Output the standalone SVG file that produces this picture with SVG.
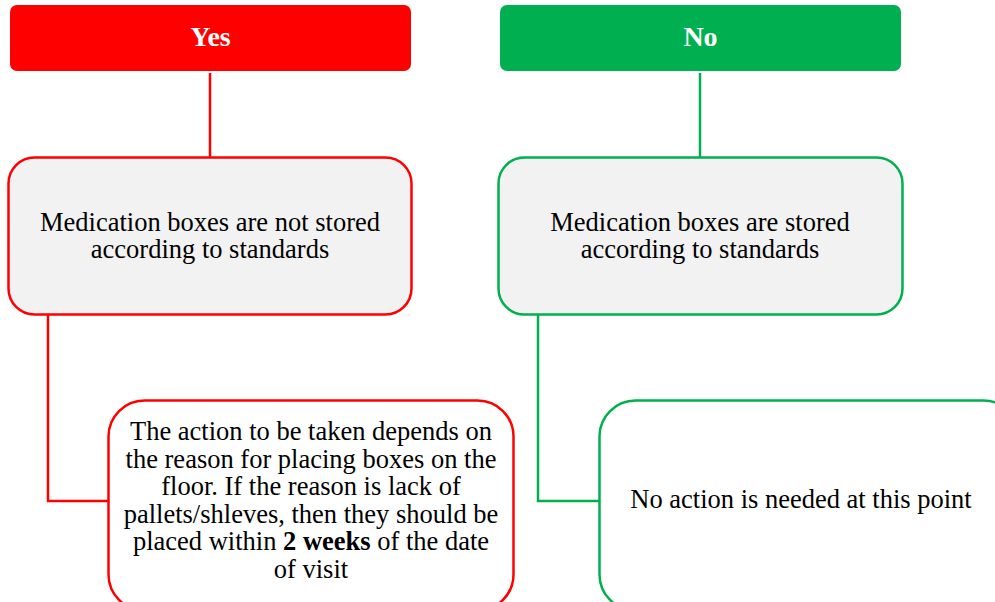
<svg xmlns="http://www.w3.org/2000/svg" width="995" height="602" viewBox="0 0 995 602">
  <style>
    .txt { font-family: "Liberation Serif", "Times New Roman", serif; font-size: 26.5px; fill: #000; text-anchor: middle; }
    .head { font-family: "Liberation Serif", "Times New Roman", serif; font-size: 28px; font-weight: bold; fill: #fff; text-anchor: middle; }
    .red { stroke: #FF0000; }
    .green { stroke: #00B050; }
    .wire { fill: none; stroke-width: 2.5; }
    .box { stroke-width: 2.5; }
  </style>
  <rect width="995" height="602" fill="#fff"/>

  <g id="connectors">
    <path class="wire red" d="M210 73 V157"/>
    <path class="wire red" d="M48 315 V501 H108"/>
    <path class="wire green" d="M700 73 V157"/>
    <path class="wire green" d="M538 315 V501 H599"/>
  </g>

  <g id="yes">
    <rect x="10" y="5" width="401" height="66" rx="7" fill="#FF0000"/>
    <text class="head" x="210.5" y="46">Yes</text>
  </g>
  <g id="no">
    <rect x="500" y="5" width="401" height="66" rx="7" fill="#00B050"/>
    <text class="head" x="700.5" y="46">No</text>
  </g>

  <g id="not-stored">
    <rect class="box red" x="8.5" y="157.5" width="403" height="157" rx="26" fill="#F2F2F2"/>
    <text class="txt" x="210" y="230.5">Medication boxes are not stored</text>
    <text class="txt" x="210" y="258">according to standards</text>
  </g>
  <g id="stored">
    <rect class="box green" x="498.5" y="157.5" width="404" height="157" rx="26" fill="#F2F2F2"/>
    <text class="txt" x="700" y="230.5">Medication boxes are stored</text>
    <text class="txt" x="700" y="258">according to standards</text>
  </g>

  <g id="action">
    <rect class="box red" x="108.5" y="400.5" width="405" height="210" rx="36" fill="#fff"/>
    <text class="txt" x="311" y="440">The action to be taken depends on</text>
    <text class="txt" x="311" y="467.5">the reason for placing boxes on the</text>
    <text class="txt" x="311" y="495">floor. If the reason is lack of</text>
    <text class="txt" x="311" y="522.5">pallets/shleves, then they should be</text>
    <text class="txt" x="311" y="550">placed within <tspan font-weight="bold">2 weeks</tspan> of the date</text>
    <text class="txt" x="311" y="577.5">of visit</text>
  </g>
  <g id="no-action">
    <rect class="box green" x="599.5" y="400.5" width="420" height="210" rx="36" fill="#fff"/>
    <text class="txt" x="801" y="508">No action is needed at this point</text>
  </g>
</svg>
